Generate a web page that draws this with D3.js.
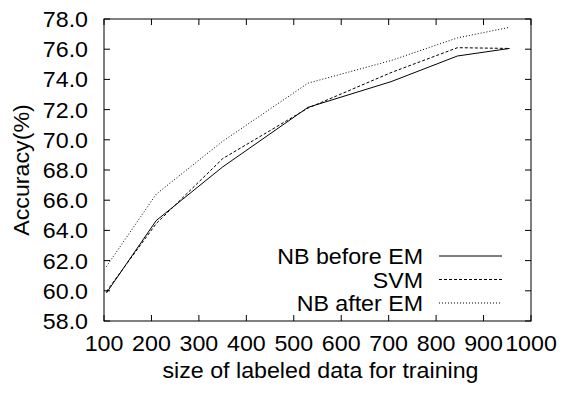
<!DOCTYPE html>
<html>
<head>
<meta charset="utf-8">
<script src="https://cdn.jsdelivr.net/npm/d3@7"></script>
<style>
  body { margin: 0; background: #fff; }
  text { font-family: "Liberation Sans", Arial, sans-serif; fill: #000; }
</style>
</head>
<body>
<svg id="chart" width="561" height="394"></svg>
<script>
// training set sizes
const sizes = [105, 210, 350, 530, 705, 845, 955];

const nbBefore = [59.85, 64.65, 68.2, 72.15, 73.85, 75.55, 76.05];
const svm      = [59.95, 64.45, 68.75, 72.1, 74.45, 76.1, 76.05];
const nbAfter  = [61.6, 66.4, 69.9, 73.75, 75.25, 76.75, 77.45];

const seriesNames = ['NB before EM', 'SVM', 'NB after EM'];
const xTicks = [100, 200, 300, 400, 500, 600, 700, 800, 900, 1000];
const yTicks = [58, 60, 62, 64, 66, 68, 70, 72, 74, 76, 78];

const margin = { top: 19, right: 30, bottom: 73, left: 104 };
const width = 561 - margin.left - margin.right;
const height = 394 - margin.top - margin.bottom;

const svg = d3.select('#chart');
const g = svg.append('g').attr('transform', `translate(${margin.left},${margin.top})`);

const x = d3.scaleLinear().domain([100, 1000]).range([0, width]);
const y = d3.scaleLinear().domain([58, 78]).range([height, 0]);

const tick = 6;
const fontSize = 21.5;
const stretch = 1.08; // the original font runs a little wide

// text placed with a slight horizontal stretch
function label(sel, tx, ty, rot) {
    return sel
        .attr('transform', (d, i) => {
            const px = typeof tx === 'function' ? tx(d, i) : tx;
            const py = typeof ty === 'function' ? ty(d, i) : ty;
            return `translate(${px},${py})` + (rot ? ` rotate(${rot})` : '') + ` scale(${stretch},1)`;
        })
        .style('font-size', fontSize + 'px');
}

// ticks on all four sides, pointing inward
g.selectAll('.xt')
    .data(xTicks)
    .enter()
    .append('path')
    .attr('d', d => `M${x(d)},${height}v${-tick}M${x(d)},0v${tick}`)
    .attr('stroke', '#000')
    .attr('stroke-width', 1);

g.selectAll('.yt')
    .data(yTicks)
    .enter()
    .append('path')
    .attr('d', d => `M0,${y(d)}h${tick}M${width},${y(d)}h${-tick}`)
    .attr('stroke', '#000')
    .attr('stroke-width', 1);

// tick labels
label(g.selectAll('.xl')
    .data(xTicks)
    .enter()
    .append('text')
    .attr('text-anchor', 'middle')
    .text(d => d), d => x(d), height + 30);

label(g.selectAll('.yl')
    .data(yTicks)
    .enter()
    .append('text')
    .attr('text-anchor', 'end')
    .text(d => d.toFixed(1)), -16, d => y(d) + 8);

// axis titles
label(g.append('text')
    .attr('text-anchor', 'middle')
    .text('size of labeled data for training'), width / 2 + 3, height + 57);

label(g.append('text')
    .attr('text-anchor', 'middle')
    .text('Accuracy(%)'), -75, height / 2, -90);

// series
const dashes = [null, '3,2', '1,2'];
const allSeries = [nbBefore, svm, nbAfter];

const line = d3.line()
    .x((d, i) => x(sizes[i]))
    .y(d => y(d));

g.selectAll('.series')
    .data(allSeries)
    .enter()
    .append('path')
    .attr('d', d => line(d))
    .attr('fill', 'none')
    .attr('stroke', '#000')
    .attr('stroke-width', 1)
    .attr('stroke-dasharray', (d, i) => dashes[i]);

// legend
const legend = g.append('g');
const legendTop = 237;
const rowH = 23.5;

label(legend.selectAll('text')
    .data(seriesNames)
    .enter()
    .append('text')
    .attr('text-anchor', 'end')
    .text(d => d), 319, (d, i) => legendTop + i * rowH + 8);

legend.selectAll('path')
    .data(seriesNames)
    .enter()
    .append('path')
    .attr('d', (d, i) => `M335,${legendTop + i * rowH}H398`)
    .attr('stroke', '#000')
    .attr('stroke-width', 1)
    .attr('stroke-dasharray', (d, i) => dashes[i]);

// frame
g.append('rect')
    .attr('width', width)
    .attr('height', height)
    .attr('fill', 'none')
    .attr('stroke', '#000')
    .attr('stroke-width', 1);
</script>
</body>
</html>
